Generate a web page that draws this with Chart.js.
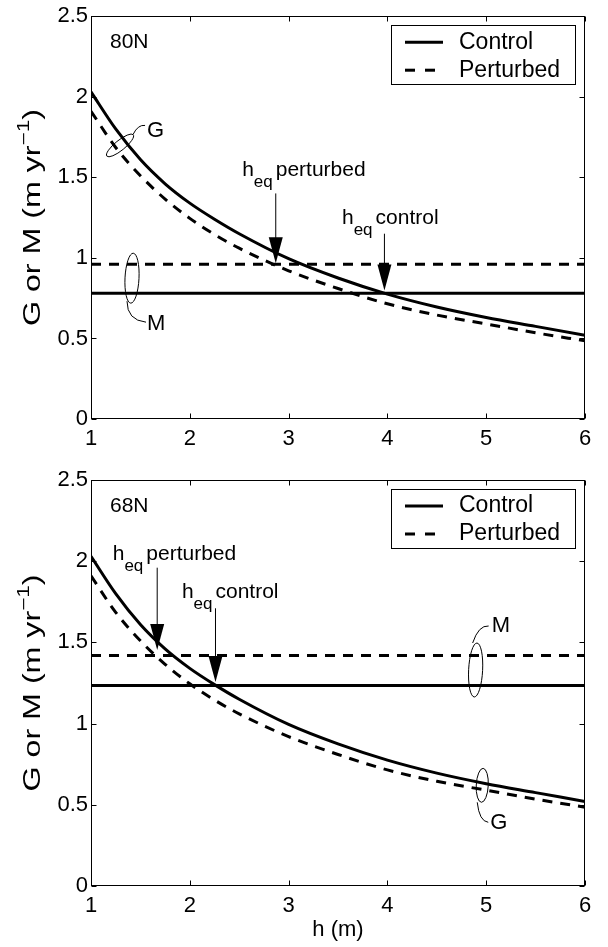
<!DOCTYPE html>
<html><head><meta charset="utf-8">
<script src="https://cdn.jsdelivr.net/npm/chart.js@4.4.0/dist/chart.umd.min.js"></script>
<style>
html,body{margin:0;padding:0;background:#fff;}
#wrap{position:relative;width:608px;height:947px;overflow:hidden;}
canvas{position:absolute;left:0;}
</style></head><body>
<div id="wrap">
<canvas id="c1" width="608" height="460" style="top:0px"></canvas>
<canvas id="c2" width="608" height="487" style="top:460px"></canvas>
</div>
<script>
// ---------- data ----------
const hValues    = [1, 1.25, 1.5, 1.75, 2, 2.25, 2.5, 3, 3.5, 4, 4.5, 5, 5.5, 6];
const gControl   = [2.03, 1.80, 1.61, 1.46, 1.34, 1.24, 1.15, 0.995, 0.875, 0.775, 0.695, 0.63, 0.575, 0.52];
const gPerturbed = [1.91, 1.685, 1.51, 1.365, 1.245, 1.145, 1.06, 0.92, 0.81, 0.715, 0.645, 0.59, 0.535, 0.485];
const panelNames = ['80N', '68N'];
const mControl   = [0.78, 1.235];
const mPerturbed = [0.96, 1.42];
const heqControl   = [3.97, 2.26];
const heqPerturbed = [2.87, 1.67];
const xTicks = [1, 2, 3, 4, 5, 6];
const yTicks = [0, 0.5, 1, 1.5, 2, 2.5];
const seriesNames = ['Control', 'Perturbed'];

const FONT = '"Liberation Sans", Arial, Helvetica, sans-serif';
const DASH = [10, 8];

function drawYTitle(ctx, cx, cy) {
  ctx.save();
  ctx.translate(cx, cy); ctx.rotate(-Math.PI / 2);
  ctx.scale(1.4, 1);
  const main = 'G or M (m yr', sup = '\u22121', end = ')';
  ctx.font = `23px ${FONT}`;
  const w1 = ctx.measureText(main).width, w3 = ctx.measureText(end).width;
  ctx.font = `16px ${FONT}`;
  const w2 = ctx.measureText(sup).width;
  let x = -(w1 + w2 + w3) / 2;
  ctx.textBaseline = 'alphabetic'; ctx.textAlign = 'left'; ctx.fillStyle = '#000';
  ctx.font = `23px ${FONT}`; ctx.fillText(main, x, 8); x += w1;
  ctx.font = `16px ${FONT}`; ctx.fillText(sup, x, -3); x += w2;
  ctx.font = `23px ${FONT}`; ctx.fillText(end, x, 8);
  ctx.restore();
}

function annotPlugin(i, opts) {
  return {
    id: 'annot' + i,
    afterDraw(chart) {
      const ctx = chart.ctx;
      const { left, right, top, bottom } = chart.chartArea;
      const X = v => chart.scales.x.getPixelForValue(v);
      const Y = v => chart.scales.y.getPixelForValue(v);
      ctx.save();
      ctx.strokeStyle = '#000'; ctx.fillStyle = '#000'; ctx.lineWidth = 1;
      // frame
      const L = Math.round(left) + 0.5, R = Math.round(right) - 0.5, T = Math.round(top) + 0.5, B = Math.round(bottom) - 0.5;
      ctx.strokeRect(L, T, R - L, B - T);
      // inward ticks
      ctx.beginPath();
      xTicks.forEach(v => { const x = Math.round(X(v)) + 0.5; ctx.moveTo(x, B); ctx.lineTo(x, B - 5); ctx.moveTo(x, T); ctx.lineTo(x, T + 5); });
      yTicks.forEach(v => { const y = Math.round(Y(v)) + 0.5; ctx.moveTo(L, y); ctx.lineTo(L + 5, y); ctx.moveTo(R, y); ctx.lineTo(R - 5, y); });
      ctx.stroke();

      // legend
      const bx = right - 194, by = top + 9, bw = 184, bh = 59;
      ctx.fillStyle = '#fff'; ctx.fillRect(bx, by, bw, bh);
      ctx.strokeRect(Math.round(bx) + 0.5, Math.round(by) + 0.5, bw, bh);
      ctx.fillStyle = '#000';
      ctx.lineWidth = 3;
      ctx.beginPath(); ctx.moveTo(bx + 14, by + 17); ctx.lineTo(bx + 52, by + 17); ctx.stroke();
      ctx.setLineDash([10, 10]);
      ctx.beginPath(); ctx.moveTo(bx + 14, by + 45); ctx.lineTo(bx + 52, by + 45); ctx.stroke();
      ctx.setLineDash([]);
      ctx.lineWidth = 1;
      ctx.font = `23px ${FONT}`; ctx.textBaseline = 'middle'; ctx.textAlign = 'left';
      ctx.fillText(seriesNames[0], bx + 68, by + 17);
      ctx.fillText(seriesNames[1], bx + 68, by + 45);

      // panel name
      ctx.font = `21px ${FONT}`; ctx.textBaseline = 'middle';
      ctx.fillText(panelNames[i], left + 19, top + 26);

      // arrows with h_eq labels
      opts.arrows.forEach(a => {
        const x = X(a.h), yTop = Y(a.top), yTip = Y(a.tip);
        ctx.beginPath(); ctx.moveTo(x, yTop); ctx.lineTo(x, yTip - 24); ctx.stroke();
        ctx.beginPath(); ctx.moveTo(x - 7, yTip - 26); ctx.lineTo(x + 7, yTip - 26); ctx.lineTo(x, yTip); ctx.closePath(); ctx.fill();
        const lx = X(a.lh), ly = Y(a.lv);
        ctx.textBaseline = 'alphabetic';
        ctx.font = `21px ${FONT}`; ctx.fillText('h', lx, ly);
        let w = ctx.measureText('h').width;
        ctx.font = `17px ${FONT}`; ctx.fillText('eq', lx + w, ly + 11);
        w += ctx.measureText('eq').width;
        ctx.font = `21px ${FONT}`; ctx.fillText(a.label, lx + w + 3, ly);
      });

      // G / M loops
      opts.loops.forEach(l => {
        const cx = X(l.h), cy = Y(l.v);
        ctx.beginPath(); ctx.ellipse(cx, cy, l.rx, l.ry, l.rot, 0, Math.PI * 2); ctx.stroke();
        ctx.beginPath();
        ctx.moveTo(cx + l.lead[0], cy + l.lead[1]);
        ctx.quadraticCurveTo(cx + l.lead[2], cy + l.lead[3], cx + l.lead[4], cy + l.lead[5]);
        ctx.stroke();
        ctx.font = `22px ${FONT}`; ctx.textBaseline = 'middle';
        ctx.fillText(l.name, cx + l.text[0], cy + l.text[1]);
      });

      // axis titles
      drawYTitle(ctx, 32, (top + bottom) / 2);
      if (opts.xTitle) {
        ctx.font = `22px ${FONT}`; ctx.textAlign = 'center'; ctx.textBaseline = 'middle';
        ctx.fillText(opts.xTitle, (left + right) / 2, bottom + 44);
      }
      ctx.restore();
    }
  };
}

function makePanel(canvas, i, opts) {
  const pts = arr => hValues.map((h, k) => ({ x: h, y: arr[k] }));
  const flat = v => [{ x: xTicks[0], y: v }, { x: xTicks[xTicks.length - 1], y: v }];
  const tickFont = { family: FONT, size: 22 };
  return new Chart(canvas, {
    type: 'line',
    data: {
      datasets: [
        { label: 'G ' + seriesNames[0], data: pts(gControl), borderColor: '#000', borderWidth: 3, pointRadius: 0, cubicInterpolationMode: 'monotone', fill: false },
        { label: 'G ' + seriesNames[1], data: pts(gPerturbed), borderColor: '#000', borderWidth: 3, borderDash: DASH, pointRadius: 0, cubicInterpolationMode: 'monotone', fill: false },
        { label: 'M ' + seriesNames[0], data: flat(mControl[i]), borderColor: '#000', borderWidth: 3, pointRadius: 0, fill: false },
        { label: 'M ' + seriesNames[1], data: flat(mPerturbed[i]), borderColor: '#000', borderWidth: 3, borderDash: DASH, pointRadius: 0, fill: false }
      ]
    },
    options: {
      responsive: false, animation: false, devicePixelRatio: 1,
      layout: { padding: { top: opts.padTop, right: 23, left: 0, bottom: 0 } },
      plugins: { legend: { display: false }, tooltip: { enabled: false } },
      scales: {
        x: {
          type: 'linear', min: xTicks[0], max: xTicks[xTicks.length - 1],
          afterBuildTicks: s => { s.ticks = xTicks.map(v => ({ value: v })); },
          afterFit: s => { s.height = opts.xAxisH; },
          grid: { display: false, drawTicks: false }, border: { display: false },
          ticks: { font: tickFont, color: '#000', padding: 7, maxRotation: 0, autoSkip: false, callback: v => String(v) }
        },
        y: {
          type: 'linear', min: yTicks[0], max: yTicks[yTicks.length - 1],
          afterBuildTicks: s => { s.ticks = yTicks.map(v => ({ value: v })); },
          afterFit: s => { s.width = 91; },
          grid: { display: false, drawTicks: false }, border: { display: false },
          ticks: { font: tickFont, color: '#000', padding: 3, autoSkip: false, callback: v => String(v) }
        }
      }
    },
    plugins: [annotPlugin(i, opts)]
  });
}

makePanel(document.getElementById('c1'), 0, {
  padTop: 12, xAxisH: 41,
  arrows: [
    { h: heqPerturbed[0], top: 1.40, tip: 0.966, label: 'perturbed', lh: 2.53, lv: 1.511 },
    { h: heqControl[0], top: 1.15, tip: 0.797, label: 'control', lh: 3.54, lv: 1.212 }
  ],
  loops: [
    { name: 'G', h: 1.294, v: 1.698, rx: 17, ry: 5, rot: -0.68, lead: [13, -11, 18, -21, 25, -20], text: [27, -14] },
    { name: 'M', h: 1.415, v: 0.874, rx: 7, ry: 25, rot: 0.05, lead: [-5, 23, -5, 42, 14, 44], text: [15, 46] }
  ]
});

makePanel(document.getElementById('c2'), 1, {
  padTop: 20, xAxisH: 61, xTitle: 'h (m)',
  arrows: [
    { h: heqPerturbed[1], top: 1.96, tip: 1.453, label: 'perturbed', lh: 1.22, lv: 2.01 },
    { h: heqControl[1], top: 1.71, tip: 1.256, label: 'control', lh: 1.92, lv: 1.773 }
  ],
  loops: [
    { name: 'M', h: 4.893, v: 1.33, rx: 7, ry: 27, rot: 0.05, lead: [-3, -27, 3, -45, 13, -44], text: [16, -44] },
    { name: 'G', h: 4.96, v: 0.62, rx: 6, ry: 17, rot: 0.05, lead: [-5, 17, -3, 36, 6, 37], text: [8, 38] }
  ]
});
</script>
</body></html>
